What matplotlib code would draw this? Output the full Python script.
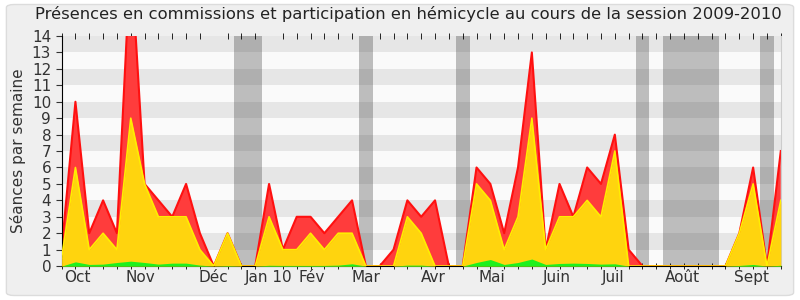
import numpy as np
import matplotlib
matplotlib.use('Agg')
import matplotlib.pyplot as plt
from matplotlib.patches import FancyBboxPatch

# weekly values, session 2009-2010 (week 0 = start of october)
seances_total = [1, 10, 2, 4, 2, 19, 5, 4, 3, 5, 2, 0, 2, 0, 0, 5, 1, 3, 3, 2, 3, 4, 0, 0, 1, 4, 3,
                 4, 0, 0, 6, 5, 2, 6, 13, 1, 5, 3, 6, 5, 8, 1, 0, 0, 0, 0, 0, 0, 0, 2, 6, 0, 7]
seances_commission = [0.5, 6, 1, 2, 1, 9, 5, 3, 3, 3, 1, 0, 2, 0, 0, 3, 1, 1, 2, 1, 2, 2, 0, 0, 0, 3, 2,
                      0, 0, 0, 5, 4, 1, 3, 9, 1, 3, 3, 4, 3, 7, 0, 0, 0, 0, 0, 0, 0, 0, 2, 5, 0, 4]
interventions = [0, 0.26, 0.1, 0.12, 0.22, 0.3, 0.22, 0.12, 0.18, 0.18, 0.06, 0, 0.03, 0, 0, 0.05, 0.04,
                 0.04, 0.04, 0.04, 0.06, 0.14, 0, 0, 0, 0.06, 0.06, 0, 0, 0, 0.22, 0.4, 0.1, 0.22, 0.43,
                 0.1, 0.16, 0.18, 0.16, 0.12, 0.14, 0, 0, 0, 0, 0, 0, 0, 0, 0.04, 0.1, 0, 0.05]

# weeks without sessions (holidays)
vacances = [(12.5, 14.5), (21.5, 22.5), (28.5, 29.5), (41.5, 42.5), (43.5, 47.5), (50.5, 51.5)]

mois = ['Oct', 'Nov', 'Déc', 'Jan 10', 'Fév', 'Mar', 'Avr', 'Mai', 'Juin', 'Juil', 'Août', 'Sept']
mois_pos = [1.15, 5.7, 11, 15, 18.1, 22, 26.9, 31.1, 35.8, 39.9, 44.9, 49.9]

semaines = np.arange(len(seances_total))

fig = plt.figure(figsize=(8, 3), dpi=100)
fig.patch.set_facecolor('white')
fig.patches.append(FancyBboxPatch((0.008, 0.015), 0.984, 0.97, boxstyle='round,pad=0,rounding_size=0.01',
                                  transform=fig.transFigure, facecolor='#efefef', edgecolor='#dcdcdc',
                                  linewidth=1, zorder=-5))

ax = fig.add_axes([0.077, 0.113, 0.899, 0.767])
ax.set_facecolor('#fafafa')

# horizontal stripes
for k in range(1, 14, 2):
    ax.axhspan(k, k + 1, color='#e6e6e6', zorder=0, linewidth=0)

for a, b in vacances:
    ax.axvspan(a, b, color='#323232', alpha=0.3, zorder=1, linewidth=0)

ax.fill_between(semaines, 0, seances_total, color='#ff3c3c', zorder=2, linewidth=0)
ax.plot(semaines, seances_total, color='#ff1010', lw=1.5, zorder=2.1)
ax.fill_between(semaines, 0, seances_commission, color='#ffd40e', zorder=3, linewidth=0)
ax.plot(semaines, seances_commission, color='#ffee00', lw=1.2, zorder=3.1)
ax.fill_between(semaines, 0, interventions, color='#1ef01e', zorder=4, linewidth=0)

ax.set_xlim(0, 52)
ax.set_ylim(0, 14)
ax.set_yticks(range(0, 15))
ax.tick_params(axis='y', labelsize=11, length=4, colors='#333333')
ax.set_xticks(semaines, minor=True)
ax.set_xticks(mois_pos)
ax.set_xticklabels(mois, fontsize=11, color='#333333')
ax.tick_params(axis='x', which='major', length=0, pad=3)
ax.tick_params(axis='x', which='minor', length=4, top=True, bottom=True, direction='inout')

ax.spines['top'].set_visible(False)
ax.spines['right'].set_color('#cccccc')
ax.spines['left'].set_color('black')
ax.spines['bottom'].set_color('black')

ax.set_ylabel('Séances par semaine', fontsize=11, color='#333333')
fig.text(0.51, 0.955, 'Présences en commissions et participation en hémicycle au cours de la session 2009-2010',
         ha='center', va='center', fontsize=11.8, color='#222222')

plt.savefig('out.png', dpi=100)
